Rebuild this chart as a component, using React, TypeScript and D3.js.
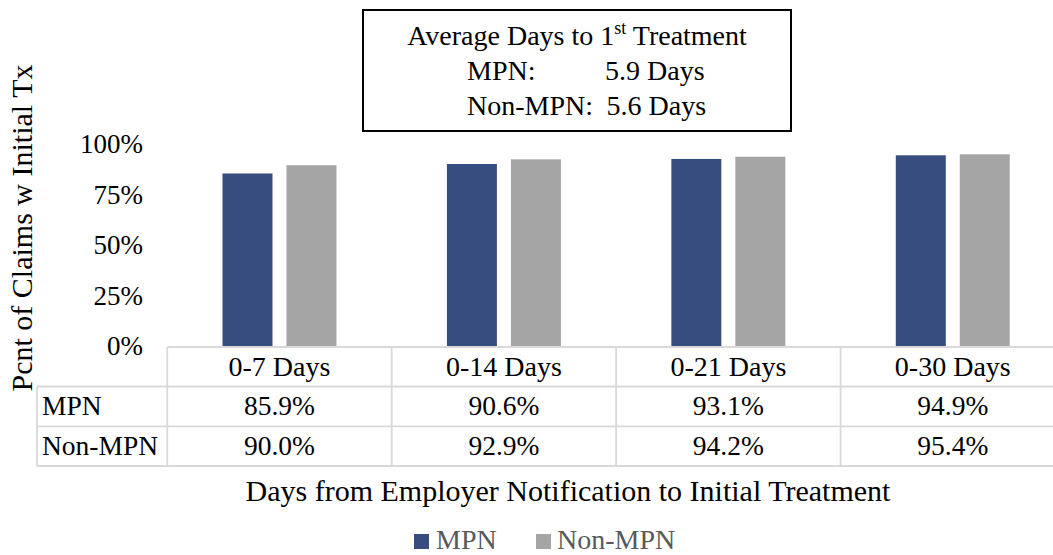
import React from "react";
import * as d3 from "d3";

const categories = ["0-7 Days", "0-14 Days", "0-21 Days", "0-30 Days"];
const seriesNames = ["MPN", "Non-MPN"];
const mpnValues = [0.859, 0.906, 0.931, 0.949];
const nonMpnValues = [0.9, 0.929, 0.942, 0.954];
const yTicks = [0, 0.25, 0.5, 0.75, 1];
const colors = ["#374D7F", "#A5A5A5"];
const boxLines = ["Average Days to 1", "st", " Treatment"];
const avgLabels = ["MPN:", "Non-MPN:"];
const avgValues = ["5.9 Days", "5.6 Days"];

const FONT = '"Liberation Serif"';
const GRID = "#d9d9d9";

export default function App() {
  const W = 1053;
  const H = 555;
  const plotLeft = 167.25;
  const plotRight = 1065;
  const baseY = 347;
  const topY = 145;

  const x = d3.scaleBand<string>().domain(categories).range([plotLeft, plotRight]).padding(0);
  const x1 = d3
    .scaleBand<string>()
    .domain(seriesNames)
    .range([0, x.bandwidth()])
    .paddingInner(0.21875)
    .paddingOuter(0.863);
  const y = d3.scaleLinear().domain([0, 1]).range([baseY, topY]);
  const fmt = d3.format(".0%");
  const fmt1 = d3.format(".1%");

  const seriesData = [mpnValues, nonMpnValues];
  const rowTops = [baseY, 386.5, 426.3, 466];
  const tableLeft = 37;
  const st = (size: number): React.CSSProperties => ({ fontFamily: FONT, fontSize: size });

  return (
    <svg width={W} height={H} style={{ position: "absolute", left: 0, top: 0, background: "#fff" }}>
      <rect x={0} y={0} width={W} height={H} fill="#fff" />
      {seriesData.map((vals, si) =>
        vals.map((v, ci) => (
          <rect
            key={`b${si}-${ci}`}
            x={(x(categories[ci]) as number) + (x1(seriesNames[si]) as number)}
            y={y(v)}
            width={x1.bandwidth()}
            height={baseY - y(v)}
            fill={colors[si]}
          />
        ))
      )}
      {yTicks.map((t) => (
        <text key={`yt${t}`} x={143} y={y(t)} dy="0.3em" textAnchor="end" style={st(27)} fill="#000">
          {fmt(t)}
        </text>
      ))}
      <text transform="translate(32,228) rotate(-90)" textAnchor="middle" style={st(30)} fill="#000">
        Pcnt of Claims w Initial Tx
      </text>
      <g stroke={GRID} strokeWidth={1.8} fill="none">
        <line x1={plotLeft} x2={plotRight} y1={rowTops[0]} y2={rowTops[0]} />
        {rowTops.slice(1).map((ry, i) => (
          <line key={`h${i}`} x1={tableLeft} x2={plotRight} y1={ry} y2={ry} />
        ))}
        <line x1={tableLeft} x2={tableLeft} y1={rowTops[1]} y2={rowTops[3]} />
        {categories.map((c, i) => (
          <line key={`v${i}`} x1={x(c) as number} x2={x(c) as number} y1={rowTops[0]} y2={rowTops[3]} />
        ))}
      </g>
      {categories.map((c) => (
        <text
          key={`c${c}`}
          x={(x(c) as number) + x.bandwidth() / 2}
          y={(rowTops[0] + rowTops[1]) / 2}
          dy="0.33em"
          textAnchor="middle"
          style={st(28)}
          fill="#000"
        >
          {c}
        </text>
      ))}
      {seriesData.map((vals, si) => (
        <g key={`row${si}`}>
          <text x={tableLeft + 5} y={(rowTops[si + 1] + rowTops[si + 2]) / 2} dy="0.33em" style={st(27.5)} fill="#000">
            {seriesNames[si]}
          </text>
          {vals.map((v, ci) => (
            <text
              key={`tv${si}-${ci}`}
              x={(x(categories[ci]) as number) + x.bandwidth() / 2}
              y={(rowTops[si + 1] + rowTops[si + 2]) / 2}
              dy="0.33em"
              textAnchor="middle"
              style={st(27.5)}
              fill="#000"
            >
              {fmt1(v)}
            </text>
          ))}
        </g>
      ))}
      <text x={568} y={501} textAnchor="middle" style={st(30)} fill="#000">
        Days from Employer Notification to Initial Treatment
      </text>
      <g>
        <rect x={414} y={534} width={15} height={15} fill={colors[0]} />
        <text x={436} y={549} style={st(28)} fill="#595959">
          {seriesNames[0]}
        </text>
        <rect x={536} y={534} width={15} height={15} fill={colors[1]} />
        <text x={557} y={549} style={st(28)} fill="#595959">
          {seriesNames[1]}
        </text>
      </g>
      <rect x={363} y={10} width={428} height={121} fill="#fff" stroke="#000" strokeWidth={2} />
      <text x={577} y={45} textAnchor="middle" style={st(28)} fill="#000">
        {boxLines[0]}
        <tspan style={{ fontSize: 18 }} dy={-11}>
          {boxLines[1]}
        </tspan>
        <tspan dy={11}>{boxLines[2]}</tspan>
      </text>
      {avgLabels.map((l, i) => (
        <g key={`avg${i}`}>
          <text x={467} y={80 + i * 35} style={st(28)} fill="#000">
            {l}
          </text>
          <text x={605 + i * 1.5} y={80 + i * 35} style={st(28)} fill="#000">
            {avgValues[i]}
          </text>
        </g>
      ))}
    </svg>
  );
}
